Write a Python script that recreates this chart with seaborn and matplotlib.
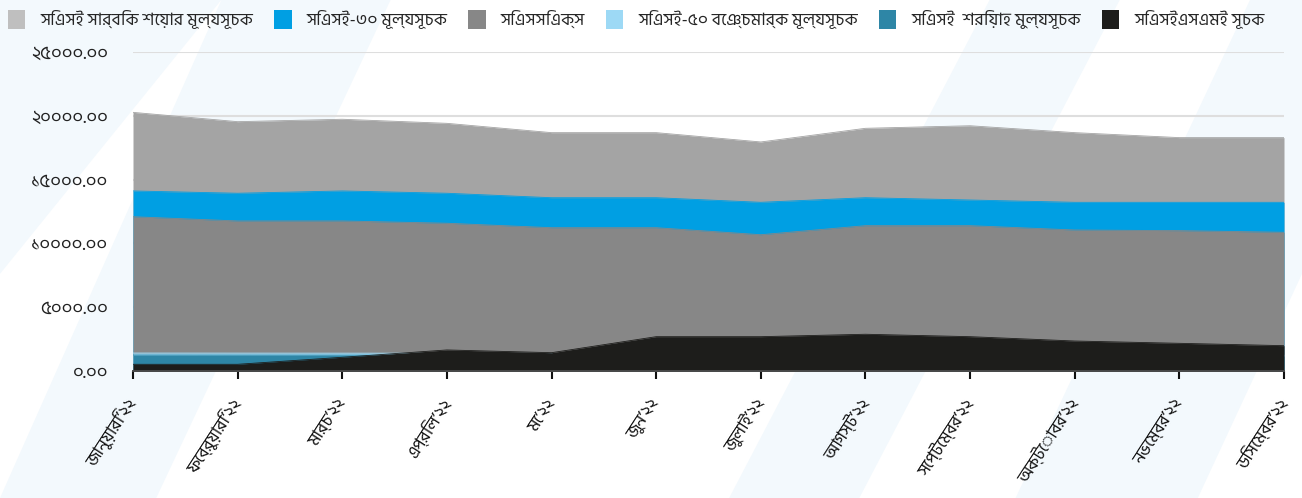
import matplotlib
matplotlib.use("Agg")
import matplotlib.pyplot as plt
from matplotlib import font_manager
from matplotlib.patches import Patch, Polygon
from matplotlib.transforms import ScaledTranslation
import seaborn as sns
import numpy as np
import pandas as pd

# ---------------- data ----------------
months = ["জানুয়ারি’২২", "ফেব্রুয়ারি’২২", "মার্চ’২২", "এপ্রিল’২২", "মে’২২", "জুন’২২",
          "জুলাই’২২", "আগস্ট’২২", "সেপ্টেম্বর’২২", "অক্টোবর’২২", "নভেম্বর’২২", "ডিসেম্বর’২২"]

series_names = ["সিএসই সার্বিক শেয়ার মূল্যসূচক", "সিএসই-৩০ মূল্যসূচক", "সিএসসিএক্স",
                "সিএসই-৫০ বেঞ্চমার্ক মূল্যসূচক", "সিএসই  শরিয়াহ মুল্যসূচক", "সিএসইএসএমই সূচক"]

caspi = [20270, 19540, 19730, 19410, 18680, 18680, 17950, 19020, 19220, 18680, 18290, 18290]
cse30 = [14110, 13930, 14110, 13930, 13580, 13580, 13220, 13580, 13400, 13220, 13220, 13220]
cscx = [12090, 11760, 11760, 11580, 11230, 11230, 10680, 11390, 11390, 11050, 11000, 10870]
cse50 = [1410, 1405, 1400, 1395, 1380, 1370, 1350, 1370, 1360, 1340, 1320, 1310]
csi = [1255, 1250, 1245, 1240, 1230, 1220, 1200, 1215, 1210, 1195, 1180, 1170]
sme = [525, 525, 1075, 1650, 1435, 2690, 2690, 2880, 2690, 2350, 2170, 1985]

ytick_values = [0, 5000, 10000, 15000, 20000, 25000]
ytick_labels = ["০.০০", "৫০০০.০০", "১০০০০.০০", "১৫০০০.০০", "২০০০০.০০", "২৫০০০.০০"]

area_colors = ["#a4a4a4", "#009fe3", "#878787", "#9dd9f5", "#2e86a6", "#1d1d1b"]
legend_colors = ["#bfbfbf", "#009fe3", "#878787", "#9dd9f5", "#2e86a6", "#1d1d1b"]

# ---------------- fonts ----------------
bn_family = None
for f in font_manager.findSystemFonts():
    if f.endswith("HindSiliguri-Regular.ttf"):
        try:
            font_manager.fontManager.addfont(f)
            bn_family = font_manager.FontProperties(fname=f).get_name()
        except Exception:
            pass
        break

sns.set_theme(style="white")
plt.rcParams["font.family"] = ([bn_family] if bn_family else []) + ["FreeSans", "DejaVu Sans"]

# ---------------- figure ----------------
fig = plt.figure(figsize=(13.02, 4.98), dpi=100)
fig.patch.set_facecolor("white")

# faint diagonal background bands
bands = [
    [(0.0, 0.0), (0.0, 1.0), (0.17, 1.0), (0.0, 0.45)],
    [(0.0, 0.0), (0.12, 0.0), (0.30, 1.0), (0.17, 1.0)],
    [(0.56, 0.0), (0.66, 0.0), (0.86, 1.0), (0.76, 1.0)],
    [(0.78, 0.0), (0.92, 0.0), (1.0, 0.45), (1.0, 1.0), (0.96, 1.0)],
]
for b in bands:
    fig.patches.append(Polygon(b, closed=True, transform=fig.transFigure,
                               facecolor="#f3f9fd", edgecolor="none", zorder=-5))

ax = fig.add_axes([133 / 1302, 1 - 371 / 498, (1284 - 133) / 1302, (371 - 52) / 498])
ax.set_zorder(2)
ax.set_facecolor("none")

x = np.arange(len(months))
all_series = [caspi, cse30, cscx, cse50, csi, sme]
df = pd.DataFrame({"pos": np.tile(x, len(all_series)),
                   "value": np.concatenate(all_series),
                   "series": np.repeat(series_names, len(months))})

for i, (name, col) in enumerate(zip(series_names, area_colors)):
    sub = df[df["series"] == name]
    ax.fill_between(sub["pos"], 0, sub["value"], color=col, linewidth=0, zorder=3 + 2 * i)
    sns.lineplot(data=sub, x="pos", y="value", color=col, linewidth=0.6,
                 zorder=3 + 2 * i + 0.5, ax=ax, legend=False)

ax.set_xlim(0, len(months) - 1)
ax.set_ylim(0, 25000)
ax.set_yticks(ytick_values)
ax.set_yticklabels(ytick_labels)
ax.set_xticks(x)
ax.set_xticklabels(months, rotation=57, ha="right", va="center", rotation_mode="anchor")
shift = ScaledTranslation(10 / 100, 0, fig.dpi_scale_trans)
for lbl in ax.get_xticklabels():
    lbl.set_transform(lbl.get_transform() + shift)
ax.set_xlabel("")
ax.set_ylabel("")

ax.yaxis.grid(True, color="#dedede", linewidth=1.5, zorder=1)
ax.set_axisbelow(True)
for s in ["top", "right", "left"]:
    ax.spines[s].set_visible(False)
ax.spines["bottom"].set_color("#4a4a4a")
ax.spines["bottom"].set_linewidth(1.4)
ax.spines["bottom"].set_zorder(20)

ax.tick_params(axis="y", length=0, pad=18, labelsize=13.5, labelcolor="#222222")
ax.tick_params(axis="x", direction="out", length=6, width=1.5, color="#111111",
               bottom=True, pad=15, labelsize=12.5, labelcolor="#111111")

handles = [Patch(facecolor=c, edgecolor="none") for c in legend_colors]
fig.legend(handles, series_names, loc="upper left", bbox_to_anchor=(0.0, 0.996),
           ncol=6, frameon=False, fontsize=12.6, handlelength=1.0, handleheight=1.3,
           handletextpad=0.85, columnspacing=1.2, borderaxespad=0.2, borderpad=0.25)

fig.savefig("out.png", dpi=100, facecolor="white")
